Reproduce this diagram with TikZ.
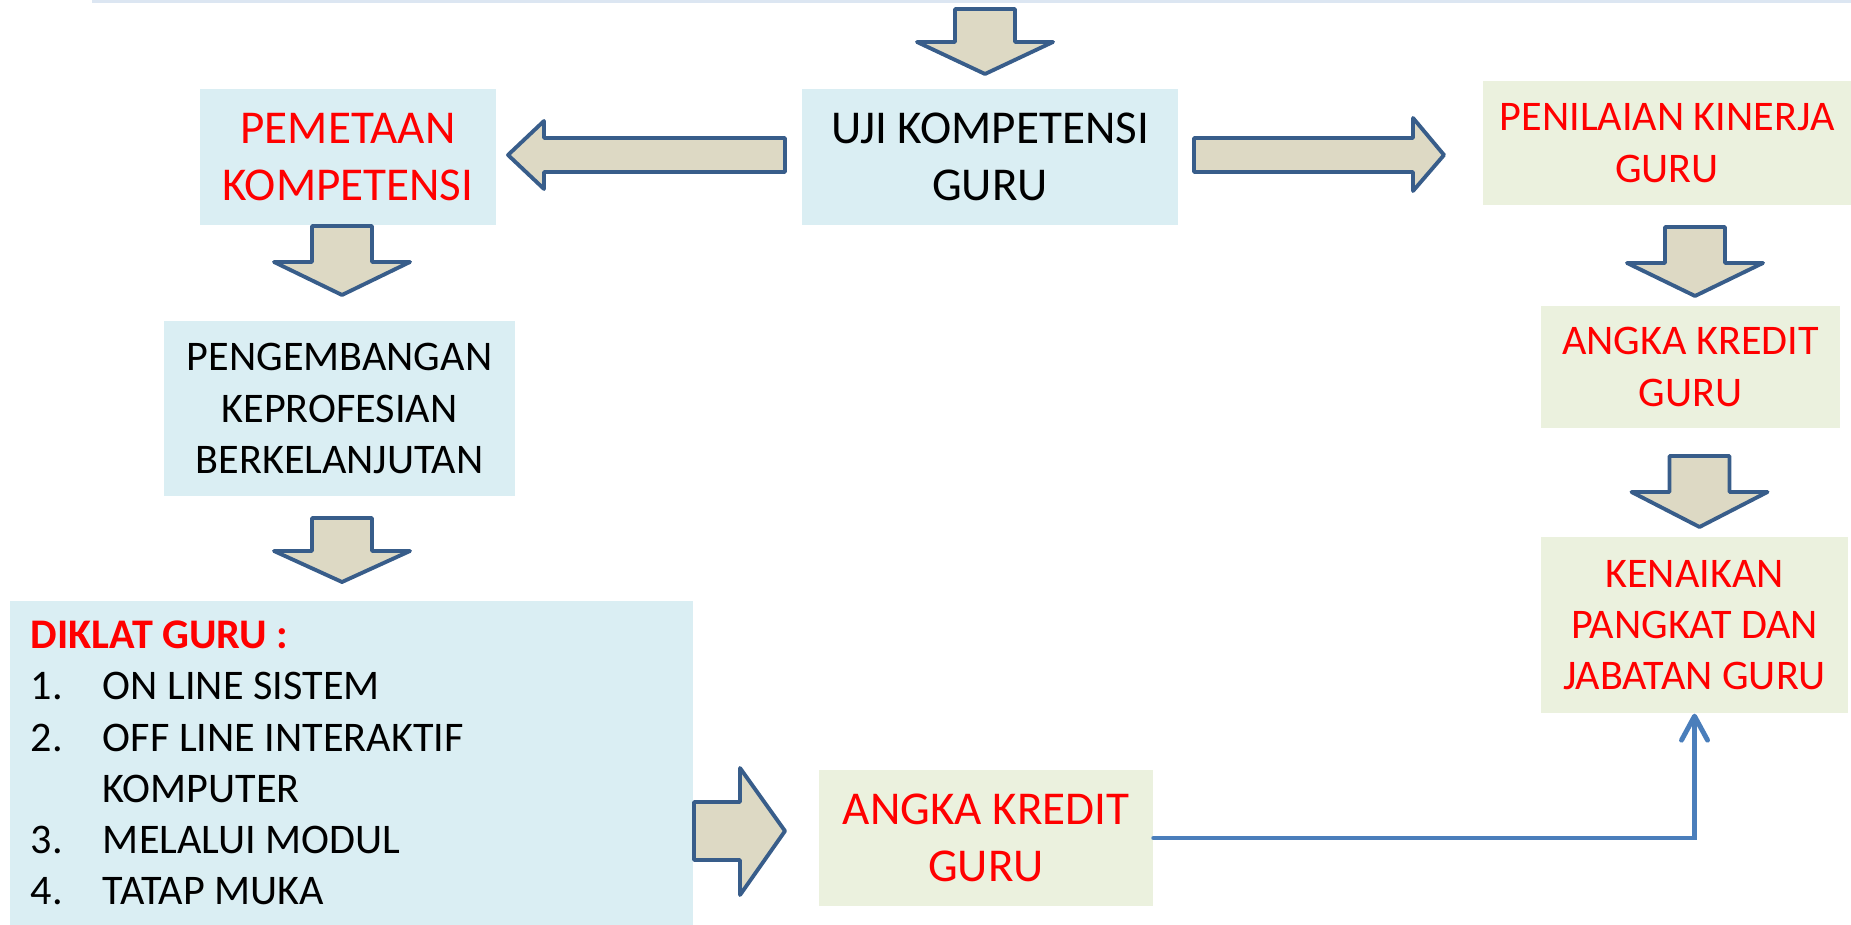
\documentclass[tikz,border=0pt]{standalone}
\usepackage{fontspec}
\setmainfont{Carlito}
\usetikzlibrary{arrows.meta}

\definecolor{boxblue}{HTML}{DAEEF3}
\definecolor{boxgreen}{HTML}{EBF1DE}
\definecolor{arrowfill}{HTML}{DDD9C4}
\definecolor{arrowline}{HTML}{385D8A}
\definecolor{linkblue}{HTML}{4A7EBB}
\definecolor{topbar}{HTML}{DCE6F2}

\newcommand{\bigfont}{\fontsize{13.4pt}{16.2pt}\selectfont}
\newcommand{\smallfont}{\fontsize{12pt}{14.6pt}\selectfont}
\newcommand{\nomor}[1]{\makebox[0.72cm][l]{#1}}

\tikzset{
  kotak/.style={inner sep=0pt, align=center},
  kotakbiru/.style={kotak, fill=boxblue},
  kotakhijau/.style={kotak, fill=boxgreen},
  panah/.style={draw=arrowline, fill=arrowfill, line width=1.1pt, line join=round},
  link/.style={draw=linkblue, line width=1.4pt, line cap=round, -{Straight Barb[length=2.4mm, width=2.6mm, round]}}
}

\begin{document}
\begin{tikzpicture}[x=1cm,y=-1cm]
            \useasboundingbox (0,0) rectangle (18.51,9.25);
            \fill[topbar] (0.92,0) rectangle (18.51,0.03);

            \node[kotakbiru, minimum width=3.76cm, minimum height=1.36cm, font=\bigfont] (uji) at (9.90,1.57) {UJI KOMPETENSI\\GURU};
            \node[kotakbiru, minimum width=2.96cm, minimum height=1.36cm, font=\bigfont, text=red] (peta) at (3.48,1.57) {PEMETAAN\\KOMPETENSI};
            \node[kotakhijau, minimum width=3.68cm, minimum height=1.24cm, font=\smallfont, text=red] (nilai) at (16.67,1.43) {PENILAIAN KINERJA\\GURU};
            \node[kotakbiru, minimum width=3.51cm, minimum height=1.75cm, font=\smallfont] (kembang) at (3.395,4.085) {PENGEMBANGAN\\KEPROFESIAN\\BERKELANJUTAN};
            \node[kotakhijau, minimum width=2.99cm, minimum height=1.22cm, font=\smallfont, text=red] (kredit) at (16.905,3.67) {ANGKA KREDIT\\GURU};
            \node[kotakhijau, minimum width=3.07cm, minimum height=1.76cm, font=\smallfont, text=red] (naik) at (16.945,6.25) {KENAIKAN\\PANGKAT DAN\\JABATAN GURU};
            \node[kotakbiru, minimum width=6.83cm, minimum height=3.24cm, inner xsep=0.21cm, text width=6.41cm, align=left, font=\smallfont] (diklat) at (3.515,7.63) {\spaceskip=0pt\xspaceskip=0pt
                \textcolor{red}{\textbf{DIKLAT GURU :}}\\
                \nomor{1.}ON LINE SISTEM\\
                \nomor{2.}OFF LINE INTERAKTIF\\
                \nomor{}KOMPUTER\\
                \nomor{3.}MELALUI MODUL\\
                \nomor{4.}TATAP MUKA};
            \node[kotakhijau, minimum width=3.34cm, minimum height=1.36cm, font=\bigfont, text=red] (kreditB) at (9.86,8.38) {ANGKA KREDIT\\GURU};

            % block arrows down
            \foreach \cx/\ty/\sy/\tip in {9.85/0.09/0.42/0.74, 3.42/2.26/2.62/2.95, 3.42/5.18/5.51/5.82, 16.95/2.27/2.63/2.96, 16.995/4.56/4.92/5.27}
                \draw[panah] (\cx-0.30,\ty) -- (\cx+0.30,\ty) -- (\cx+0.30,\sy) -- (\cx+0.68,\sy) -- (\cx,\tip) -- (\cx-0.68,\sy) -- (\cx-0.30,\sy) -- cycle;

            % block arrows sideways
            \draw[panah] (7.85,1.38) -- (5.44,1.38) -- (5.44,1.21) -- (5.08,1.55) -- (5.44,1.89) -- (5.44,1.72) -- (7.85,1.72) -- cycle;
            \draw[panah] (11.94,1.38) -- (14.13,1.38) -- (14.13,1.18) -- (14.44,1.55) -- (14.13,1.91) -- (14.13,1.72) -- (11.94,1.72) -- cycle;
            \draw[panah] (6.94,8.02) -- (7.40,8.02) -- (7.40,7.68) -- (7.85,8.31) -- (7.40,8.95) -- (7.40,8.60) -- (6.94,8.60) -- cycle;

            \draw[link] (kreditB.east) -| (naik.south);
\end{tikzpicture}
\end{document}
